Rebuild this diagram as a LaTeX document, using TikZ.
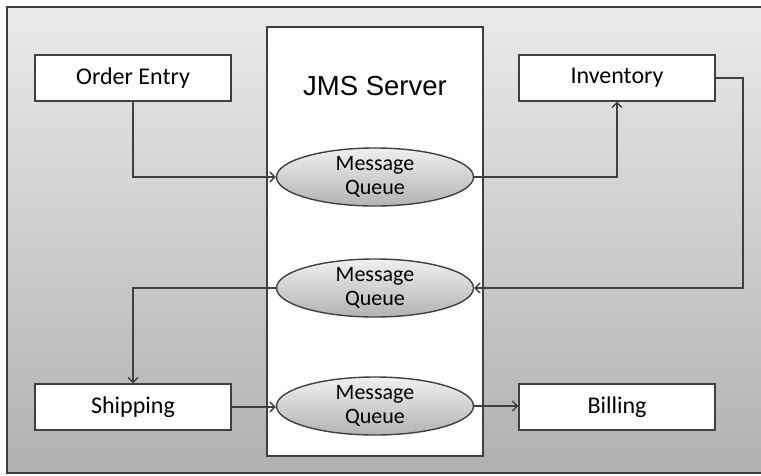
\documentclass[tikz,border=0pt]{standalone}
\usepackage{fontspec}
\setmainfont{Carlito}
\newfontfamily\arialfont{Liberation Sans}
\usetikzlibrary{shapes.geometric,arrows.meta}
\definecolor{frameline}{HTML}{404040}
\begin{document}
\begin{tikzpicture}[x=1pt,y=-1pt,
  appbox/.style={draw=frameline,line width=1.4pt,fill=white,minimum width=196pt,minimum height=46pt,inner sep=0pt,font=\fontsize{24}{27}\selectfont},
  queue/.style={ellipse,draw=frameline,line width=1.4pt,top color=gray!12,bottom color=gray!60,minimum width=197pt,minimum height=55pt,inner sep=0pt,align=center,font=\fontsize{22}{24}\selectfont},
  link/.style={draw=frameline,line width=1.3pt,-{Straight Barb[length=5pt,width=10pt,line width=1.3pt]}}]
\useasboundingbox (0,0) rectangle (761,475);
\fill[white] (0,0) rectangle (761,475);
\shade[top color=gray!16,bottom color=gray!62,draw=frameline,line width=2pt] (7,7) rectangle (770,473);
\node[draw=frameline,line width=1.4pt,fill=white,minimum width=216pt,minimum height=429pt,inner sep=0pt] (srv) at (375,241.5) {};
\node[font=\arialfont\fontsize{27.5}{30}\selectfont] (title) at (375,86) {JMS Server};
\node[appbox] (oe) at (133,78) {Order Entry};
\node[appbox] (inv) at (617,78) {Inventory};
\node[appbox] (ship) at (133,407) {Shipping};
\node[appbox] (bill) at (617,407) {Billing};
\node[queue] (mq1) at (375,177) {Message\\Queue};
\node[queue] (mq2) at (375,288) {Message\\Queue};
\node[queue] (mq3) at (375,406) {Message\\Queue};
\coordinate (turn) at (743,78);
\draw[link] (oe.south) |- (mq1.west);
\draw[link] (mq1.east) -| (inv.south);
\draw[link] (inv.east) -- (turn) |- (mq2.east);
\draw[link] (mq2.west) -| (ship.north);
\draw[link] (ship.east) -- (ship.east -| mq3.west);
\draw[link] (mq3.east) -- (mq3.east -| bill.west);
\end{tikzpicture}
\end{document}
